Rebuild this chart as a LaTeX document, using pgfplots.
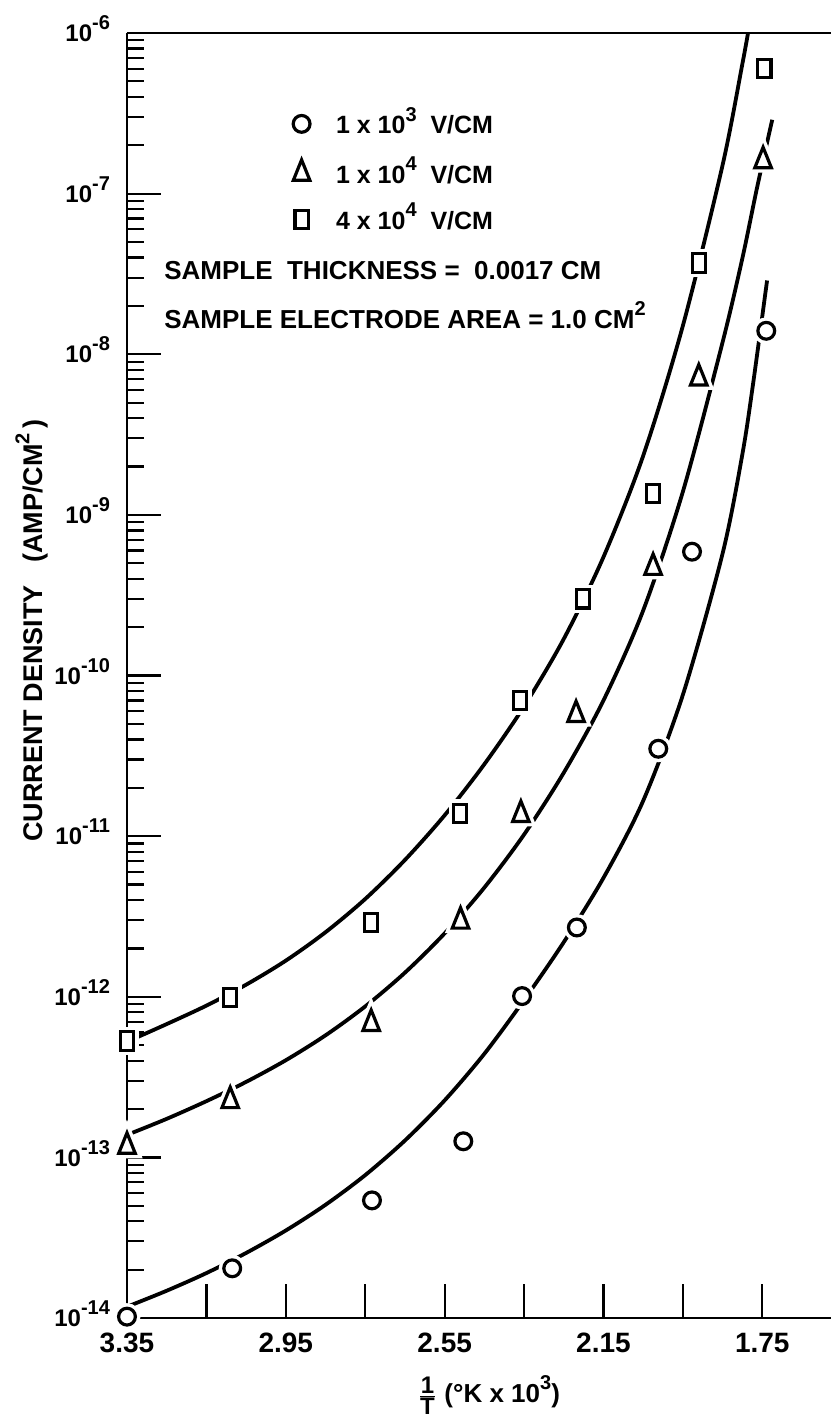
\documentclass[border=0pt]{standalone}
\usepackage{fontspec}
\setmainfont{Liberation Sans}
\usepackage{pgfplots}
\usepackage{pgfplotstable}
\pgfplotsset{compat=1.18}
\newcommand{\sups}[2]{\raisebox{0.5em}{\fontsize{#1}{#1}\selectfont #2}}

\pgfplotstableread{
x y
3.35 1.02e-14
3.085 2.04e-14
2.733 5.4e-14
2.503 1.26e-13
2.355 1.01e-12
2.217 2.7e-12
2.012 3.5e-11
1.927 5.9e-10
1.740 1.4e-8
}\circdata
\pgfplotstableread{
x y
3.35 1.17e-13
3.09 2.25e-13
2.735 6.8e-13
2.51 2.95e-12
2.358 1.36e-11
2.219 5.7e-11
2.025 4.7e-10
1.91 7.1e-9
1.748 1.6e-7
}\tridata
\pgfplotstableread{
x y
3.35 5.3e-13
3.09 9.9e-13
2.735 2.9e-12
2.511 1.38e-11
2.36 7.0e-11
2.201 3.0e-10
2.025 1.36e-9
1.909 3.7e-8
1.745 6.0e-7
}\sqdata

\pgfplotstableread{
x y
3.35 1.175e-14
3.25 1.479e-14
3.15 1.905e-14
3.05 2.541e-14
2.95 3.508e-14
2.85 5.07e-14
2.75 7.76e-14
2.65 1.274e-13
2.55 2.265e-13
2.45 4.416e-13
2.35 9.55e-13
2.25 2.188e-12
2.15 5.50e-12
2.05 1.660e-11
1.95 7.59e-11
1.85 5.75e-10
1.80 2.40e-9
1.773 6.61e-9
1.738 2.88e-8
}\circfit
\pgfplotstableread{
x y
3.35 1.380e-13
3.25 1.738e-13
3.15 2.239e-13
3.05 2.951e-13
2.95 4.027e-13
2.85 5.754e-13
2.75 8.71e-13
2.65 1.413e-12
2.55 2.483e-12
2.45 4.786e-12
2.35 1.023e-11
2.25 2.483e-11
2.15 7.0e-11
2.05 2.541e-10
1.95 1.396e-9
1.85 1.189e-8
1.80 3.98e-8
1.763 1.096e-7
1.725 2.884e-7
}\trifit
\pgfplotstableread{
x y
3.35 5.248e-13
3.25 6.761e-13
3.15 8.81e-13
3.05 1.189e-12
2.95 1.679e-12
2.85 2.523e-12
2.75 4.064e-12
2.65 7.11e-12
2.55 1.349e-11
2.45 2.805e-11
2.35 6.43e-11
2.25 1.690e-10
2.15 5.47e-10
2.05 2.333e-9
1.95 1.507e-8
1.85 1.507e-7
1.80 6.46e-7
1.786 1.0e-6
}\sqfit

\begin{document}
\begin{tikzpicture}
\begin{axis}[
  scale only axis, width=352pt, height=642.5pt,
  xmin=1.577, xmax=3.35, x dir=reverse,
  ymode=log, ymin=1e-14, ymax=1e-6,
  clip=false,
  axis on top,
  axis x line*=bottom, axis y line*=left,
  axis line style={-, line width=1.4pt},
  tick align=inside, xtick pos=bottom, ytick pos=left,
  major tick length=17pt, minor tick length=8.5pt,
  every tick/.style={black, line width=1.1pt},
  xtick={3.35,3.15,2.95,2.75,2.55,2.35,2.15,1.95,1.75},
  xticklabels={3.35,,2.95,,2.55,,2.15,,1.75},
  xticklabel style={font=\bfseries\fontsize{14}{14}\selectfont, anchor=center, yshift=-12.5pt},
  ytick={1e-14,1e-13,1e-12,1e-11,1e-10,1e-9,1e-8,1e-7,1e-6},
  yticklabels={10\sups{10}{-14},10\sups{10}{-13},10\sups{10}{-12},10\sups{10}{-11},10\sups{10}{-10},10\sups{10}{-9},10\sups{10}{-8},10\sups{10}{-7},10\sups{10}{-6}},
  minor ytick={2e-14,3e-14,4e-14,5e-14,6e-14,7e-14,8e-14,9e-14,
    2e-13,3e-13,4e-13,5e-13,6e-13,7e-13,8e-13,9e-13,
    2e-12,3e-12,4e-12,5e-12,6e-12,7e-12,8e-12,9e-12,
    2e-11,3e-11,4e-11,5e-11,6e-11,7e-11,8e-11,9e-11,
    2e-10,3e-10,4e-10,5e-10,6e-10,7e-10,8e-10,9e-10,
    2e-9,3e-9,4e-9,5e-9,6e-9,7e-9,8e-9,9e-9,
    2e-8,3e-8,4e-8,5e-8,6e-8,7e-8,8e-8,9e-8,
    2e-7,3e-7,4e-7,5e-7,6e-7,7e-7,8e-7,9e-7},
  yticklabel style={font=\bfseries\fontsize{12}{12}\selectfont, anchor=base east, xshift=-5pt, yshift=-4.3pt},
  xlabel={$\frac{\mbox{\bfseries\fontsize{12}{12}\selectfont 1}}{\mbox{\bfseries\fontsize{12}{12}\selectfont T}}$ (°K x 10\sups{10}{3})},
  xlabel style={font=\bfseries\fontsize{13}{13}\selectfont, at={(axis description cs:0.514,-0.060)}, anchor=center},
  ylabel={CURRENT DENSITY\ \ \ (AMP/CM\sups{10}{2}\,)},
  ylabel style={font=\bfseries\fontsize{13.5}{13.5}\selectfont, at={(axis description cs:-0.135,0.535)}, anchor=center},
  legend cell align=left,
  legend image code/.code={\draw[#1] plot coordinates {(0pt,0pt)};},
  legend style={draw=none, fill=none, at={(0.227,0.9405)}, anchor=north west,
    font=\bfseries\fontsize{12.5}{12.5}\selectfont, row sep=13pt,
    nodes={inner sep=0pt, text height=10pt, text depth=0pt},
    /tikz/every odd column/.append style={column sep=13pt}},
]
% fitted curves
\addplot[black, line width=1.9pt, smooth, forget plot] table {\sqfit};
\addplot[black, line width=1.9pt, smooth, forget plot] table {\trifit};
\addplot[black, line width=1.9pt, smooth, forget plot] table {\circfit};
% white halos
\addplot[only marks, mark=*, mark size=4.2pt, mark options={draw=white, fill=white, line width=5pt}, forget plot] table {\circdata};
\addplot[only marks, mark=triangle*, mark size=6.8pt, mark options={xscale=0.7, draw=white, fill=white, line width=5pt}, forget plot] table {\tridata};
\addplot[only marks, mark=square*, mark size=4.6pt, mark options={xscale=0.72, draw=white, fill=white, line width=5pt}, forget plot] table {\sqdata};
% data marks
\addplot[only marks, mark=o, mark size=4.2pt, mark options={draw=black, line width=1.6pt}] table {\circdata};
\addplot[only marks, mark=triangle, mark size=6.8pt, mark options={xscale=0.7, draw=black, line width=1.6pt}] table {\tridata};
\addplot[only marks, mark=square, mark size=4.6pt, mark options={xscale=0.72, draw=black, line width=1.6pt}] table {\sqdata};
\legend{1 x 10\sups{10}{3}\ \ V/CM, 1 x 10\sups{10}{4}\ \ V/CM, 4 x 10\sups{10}{4}\ \ V/CM}
\node[anchor=base west, font=\bfseries\fontsize{13}{13}\selectfont] at (rel axis cs:0.043,0.808) {SAMPLE\ \ THICKNESS\ = \ 0.0017 CM};
\node[anchor=base west, font=\bfseries\fontsize{13}{13}\selectfont] at (rel axis cs:0.043,0.770) {SAMPLE ELECTRODE AREA = 1.0 CM\sups{10}{2}};
\draw[line width=1.4pt] (rel axis cs:0,1) -- (rel axis cs:1,1);
\coordinate (sw) at (rel axis cs:0,0);
\coordinate (ne) at (rel axis cs:1,1);
\end{axis}
\pgfresetboundingbox
\path[use as bounding box] ([shift={(-63.5pt,-50pt)}]sw) rectangle ([shift={(0pt,16.5pt)}]ne);
\end{tikzpicture}
\end{document}
